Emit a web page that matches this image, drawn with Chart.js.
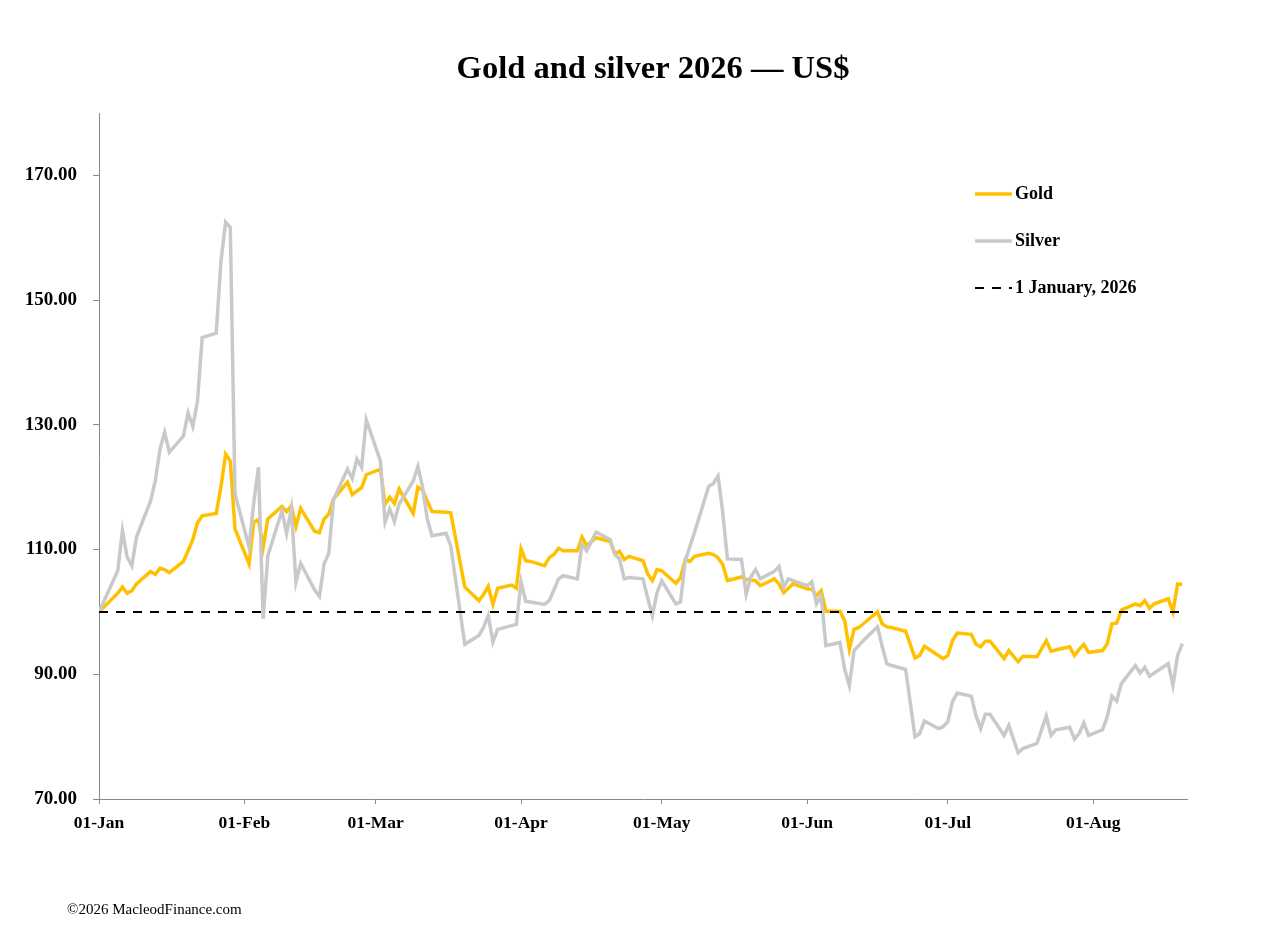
<!DOCTYPE html>
<html>
<head>
<meta charset="utf-8">
<title>Gold and silver 2026</title>
<script src="https://cdn.jsdelivr.net/npm/chart.js@4.4.1/dist/chart.umd.min.js"></script>
<style>
	html, body { margin: 0; padding: 0; background: #fff; }
	#wrap { width: 1266px; height: 942px; position: relative; }
</style>
</head>
<body>
<div id="wrap"><canvas id="line-chart"></canvas></div>
<script>
// day of year (0 = 1 January 2026), values indexed to 100 on 1 January
var days = [
	0, 4, 5, 6, 7, 8, 11, 12, 13, 14, 15, 18, 19, 20, 21, 22, 25, 26, 27, 28, 29,
	32, 33, 34, 35, 36, 39, 40, 41, 42, 43, 46, 47, 48, 49, 50, 53, 54, 55, 56, 57,
	60, 61, 62, 63, 64, 67, 68, 69, 70, 71, 74, 75, 78, 81, 82, 83, 84, 85, 88, 89,
	90, 91, 92, 95, 96, 97, 98, 99, 102, 103, 104, 106, 109, 110, 111, 112, 113, 116, 117, 118, 119,
	120, 123, 124, 125, 126, 127, 130, 131, 132, 133, 134, 137, 138, 139, 140, 141, 144, 145, 146, 147, 148,
	151, 152, 153, 154, 155, 158, 159, 160, 161, 162, 163, 166, 167, 168, 169, 172, 174, 175, 176, 179, 180,
	181, 182, 183, 186, 187, 188, 189, 190, 193, 194, 196, 197, 200, 202, 203, 204, 207, 208, 209, 210, 211,
	214, 215, 216, 217, 218, 221, 222, 223, 224, 225, 228, 229, 230, 231
];
var gold = [
	100, 103.0, 104.0, 103.0, 103.4, 104.5, 106.5, 106.0, 107.0, 106.8, 106.3, 108.1, 109.8, 111.6, 114.3, 115.4, 115.8, 120.0, 125.3, 124.2, 113.3,
	107.7, 114.4, 114.8, 110.4, 114.9, 116.9, 116.1, 117.0, 113.7, 116.6, 112.9, 112.7, 114.9, 115.7, 118.1, 120.8, 118.8, 119.4, 119.9, 122.0,
	122.9, 117.3, 118.4, 117.4, 119.7, 115.8, 120.0, 119.5, 117.8, 116.1, 116.0, 115.9, 104.0, 101.8, 102.8, 104.1, 101.2, 103.8, 104.3, 103.8,
	110.1, 108.2, 108.1, 107.4, 108.7, 109.2, 110.2, 109.8, 109.8, 112.0, 110.6, 111.9, 111.3, 109.3, 109.7, 108.4, 108.9, 108.2, 106.1, 105.0, 106.8,
	106.6, 104.6, 105.5, 108.4, 108.1, 108.9, 109.4, 109.2, 108.7, 107.6, 105.0, 105.6, 105.2, 105.1, 105.0, 104.2, 105.3, 104.5, 103.1, 103.8, 104.5,
	103.7, 103.6, 102.6, 103.4, 100.1, 100.1, 98.6, 94.0, 97.2, 97.5, 98.1, 100.0, 98.1, 97.6, 97.5, 96.9, 92.6, 93.0, 94.5, 93.0, 92.5,
	93.0, 95.4, 96.6, 96.4, 94.8, 94.4, 95.3, 95.3, 92.5, 93.8, 92.0, 92.9, 92.8, 95.4, 93.7, 93.9, 94.4, 93.0, 94.0, 94.8, 93.5,
	93.8, 94.9, 98.1, 98.2, 100.3, 101.3, 101.0, 101.8, 100.6, 101.3, 102.1, 100.0, 104.5, 104.4
];
var silver = [
	100, 106.6, 113.0, 108.8, 107.4, 112.0, 117.8, 121.0, 126.1, 128.8, 125.6, 128.2, 131.9, 129.7, 133.8, 144.0, 144.7, 156.2, 162.5, 161.6, 118.9,
	110.4, 117.5, 123.2, 98.9, 109.0, 116.2, 112.6, 116.5, 104.8, 107.8, 103.5, 102.5, 107.7, 109.4, 118.0, 122.9, 121.4, 124.5, 123.2, 130.8,
	124.2, 114.4, 116.5, 114.5, 117.3, 121.0, 123.3, 120.0, 114.9, 112.2, 112.6, 110.6, 94.8, 96.2, 97.5, 99.4, 95.2, 97.2, 97.8, 98.0,
	104.8, 101.7, 101.6, 101.2, 101.8, 103.5, 105.3, 105.8, 105.3, 110.9, 109.8, 112.8, 111.6, 109.2, 108.5, 105.3, 105.5, 105.3, 102.2, 99.4, 103.1,
	105.0, 101.3, 101.6, 108.2, 110.5, 112.8, 120.1, 120.6, 121.8, 116.0, 108.5, 108.4, 102.8, 105.6, 106.8, 105.3, 106.5, 107.3, 104.0, 105.3, 105.0,
	104.2, 104.8, 101.3, 102.5, 94.6, 95.1, 90.8, 88.2, 93.8, 94.6, 95.4, 97.6, 94.5, 91.7, 91.4, 90.8, 80.0, 80.5, 82.5, 81.3, 81.6,
	82.4, 85.6, 87.0, 86.5, 83.4, 81.3, 83.6, 83.6, 80.2, 81.8, 77.4, 78.1, 78.9, 83.3, 80.2, 81.1, 81.5, 79.6, 80.5, 82.2, 80.2,
	81.1, 83.2, 86.5, 85.7, 88.5, 91.4, 90.2, 91.1, 89.7, 90.2, 91.7, 88.2, 93.0, 94.9
];
var baseDays = [0, 232];
var baseValues = [100, 100];

var monthDays = [0, 31, 59, 90, 120, 151, 181, 212];
var monthLabels = ['01-Jan', '01-Feb', '01-Mar', '01-Apr', '01-May', '01-Jun', '01-Jul', '01-Aug'];
var yTicks = [70, 90, 110, 130, 150, 170];

var serif = "'Liberation Serif', 'Times New Roman', serif";

function toPoints(xs, ys) {
	var pts = [];
	for (var i = 0; i < xs.length; i++) {
		pts.push({ x: xs[i], y: ys[i] });
	}
	return pts;
}

// title, footer and the legend box sitting inside the plot
var textPlugin = {
	id: 'texts',
	afterDraw: function(chart) {
		var ctx = chart.ctx;
		ctx.save();
		ctx.fillStyle = '#000';
		ctx.textBaseline = 'middle';
		ctx.textAlign = 'center';
		ctx.font = 'bold 32.5px ' + serif;
		ctx.fillText('Gold and silver 2026 \u2014 US$', 653, 70);

		ctx.textAlign = 'left';
		ctx.font = '15px ' + serif;
		ctx.fillText('\u00a92026 MacleodFinance.com', 67, 910);

		var x0 = 975, y0 = 194;
		chart.data.datasets.forEach(function(ds, i) {
			var y = y0 + i * 47;
			ctx.beginPath();
			ctx.strokeStyle = ds.borderColor;
			ctx.lineWidth = ds.borderWidth;
			ctx.setLineDash(ds.borderDash || []);
			ctx.moveTo(x0, y);
			ctx.lineTo(x0 + 37, y);
			ctx.stroke();
			ctx.setLineDash([]);
			ctx.font = 'bold 18px ' + serif;
			ctx.fillText(ds.label, x0 + 40, y);
		});
		ctx.restore();
	}
};

new Chart(document.getElementById('line-chart'), {
	type: 'line',
	data: {
		datasets: [
			{
				label: 'Gold',
				data: toPoints(days, gold),
				borderColor: '#FFC000',
				borderWidth: 3.5,
				pointRadius: 0,
				fill: false,
				order: 2
			},
			{
				label: 'Silver',
				data: toPoints(days, silver),
				borderColor: '#C9C9C9',
				borderWidth: 3.5,
				pointRadius: 0,
				fill: false,
				order: 1
			},
			{
				label: '1 January, 2026',
				data: toPoints(baseDays, baseValues),
				borderColor: '#000',
				borderWidth: 2,
				borderDash: [9, 8],
				pointRadius: 0,
				fill: false,
				order: 0
			}
		]
	},
	options: {
		responsive: true,
		maintainAspectRatio: false,
		animation: false,
		layout: { padding: { left: 20, right: 79, top: 113, bottom: 107 } },
		plugins: {
			legend: { display: false },
			title: { display: false },
			tooltip: { enabled: false }
		},
		scales: {
			x: {
				type: 'linear',
				min: 0,
				max: 232,
				afterBuildTicks: function(scale) {
					scale.ticks = monthDays.map(function(d) { return { value: d }; });
				},
				afterFit: function(scale) { scale.height = 36; },
				ticks: {
					autoSkip: false,
					maxRotation: 0,
					padding: 9,
					color: '#000',
					font: { family: serif, size: 17.5, weight: 'bold' },
					callback: function(v, i) { return monthLabels[i]; }
				},
				grid: { drawOnChartArea: false, drawTicks: true, tickLength: 5, color: '#888' },
				border: { display: true, color: '#888', width: 1 }
			},
			y: {
				type: 'linear',
				min: 70,
				max: 180,
				afterBuildTicks: function(scale) {
					scale.ticks = yTicks.map(function(v) { return { value: v }; });
				},
				afterFit: function(scale) { scale.width = 79; },
				ticks: {
					padding: 16,
					color: '#000',
					font: { family: serif, size: 19, weight: 'bold' },
					callback: function(v) { return v.toFixed(2); }
				},
				grid: { drawOnChartArea: false, drawTicks: true, tickLength: 6, color: '#888' },
				border: { display: true, color: '#888', width: 1 }
			}
		}
	},
	plugins: [textPlugin]
});
</script>
</body>
</html>
